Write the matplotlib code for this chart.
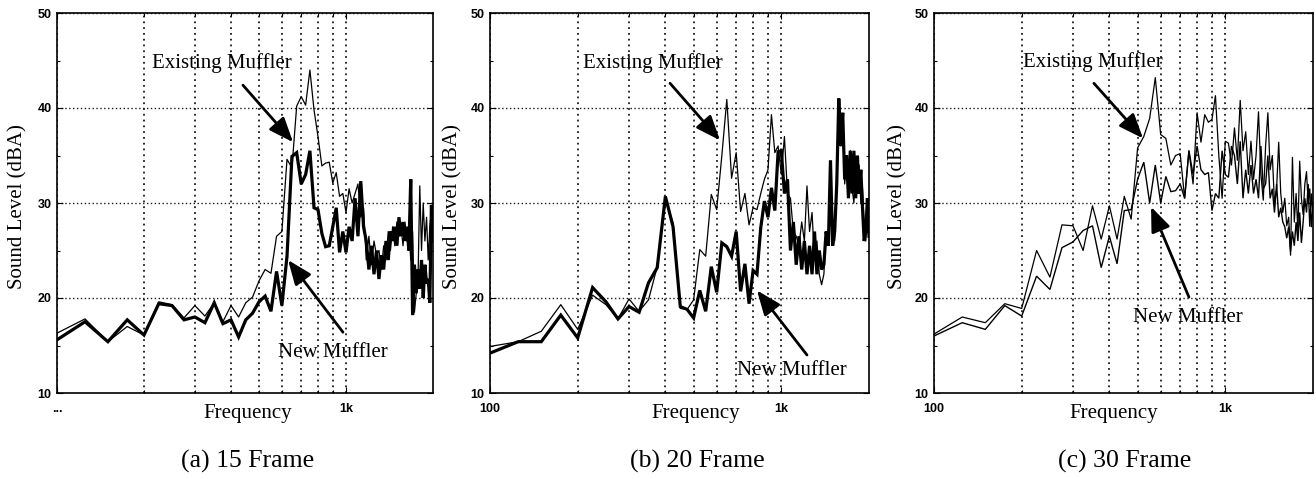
import numpy as np
import matplotlib
matplotlib.use("Agg")
import matplotlib.pyplot as plt
from matplotlib.ticker import FixedLocator, FixedFormatter, NullFormatter

# ---------------- data ----------------
freq = np.arange(100, 2001, 25)  # Hz, analysis grid

existing_15 = [16.3, 17.8, 15.4, 17.0, 16.1, 19.6, 19.3, 17.9, 19.2, 18.1, 19.5, 17.5, 19.2, 18.0, 19.5, 20.1,
               21.8, 23.0, 22.6, 26.5, 27.0, 34.6, 33.7, 40.2, 41.2, 40.3, 44.0, 39.8, 37.0, 33.9, 34.2, 34.3,
               32.1, 33.2, 30.7, 31.0,
               29.0, 31.5, 30.0, 31.0, 32.0, 28.5, 29.5, 24.0, 26.5, 23.5, 26.0, 24.5, 25.0, 23.0, 25.5, 24.0,
               27.0, 25.0, 27.5, 25.5, 28.0, 26.5, 27.5, 25.5, 28.0, 26.0, 27.5, 24.0, 27.0, 18.5, 20.5, 22.0,
               31.8, 25.0, 30.0, 26.0, 28.5, 24.0, 27.5, 29.0, 28.0]
new_15 = [15.6, 17.5, 15.4, 17.7, 16.1, 19.4, 19.2, 17.7, 18.0, 17.4, 19.5, 17.3, 17.7, 15.9, 17.7, 18.4,
          19.6, 20.2, 18.6, 22.8, 19.2, 24.4, 34.9, 35.3, 32.0, 33.0, 35.5, 29.5, 29.3, 26.8, 25.4, 25.5,
          27.5, 29.5, 24.8, 27.0,
          24.8, 27.5, 26.0, 30.5, 26.5, 32.3, 27.5, 26.0, 23.0, 25.5, 22.5, 25.0, 22.0, 24.5, 23.0, 26.0,
          24.0, 27.0, 26.0, 27.5, 25.5, 28.5, 26.5, 28.0, 26.0, 27.5, 25.0, 32.5, 18.2, 23.5, 20.5, 23.0,
          21.0, 24.0, 20.0, 23.5, 21.5, 22.0, 19.5, 29.8, 26.0]

existing_20 = [14.9, 15.4, 16.5, 19.3, 16.7, 20.3, 19.3, 17.8, 19.9, 18.6, 19.8, 23.3, 30.3, 27.9, 18.9, 18.8,
               19.8, 25.1, 24.4, 30.9, 29.3, 35.0, 40.9, 32.6, 35.3, 29.1, 31.0, 27.7, 29.5, 29.3, 31.0, 32.5,
               33.5, 39.3, 35.3, 36.0,
               33.0, 37.0, 31.0, 30.5, 27.0, 26.5, 25.5, 28.0, 26.0, 31.8, 27.0, 29.0, 24.0, 26.0, 22.5, 21.4,
               22.5, 27.0, 26.0, 33.0, 27.0, 26.0, 33.0, 39.5, 36.0, 38.0, 32.0, 34.0, 31.0, 35.5, 31.5, 30.0,
               34.5, 31.0, 34.0, 30.0, 31.5, 27.5, 26.0, 30.0, 27.5]
new_20 = [14.2, 15.4, 15.4, 18.2, 15.8, 21.1, 19.6, 17.8, 19.1, 18.5, 21.6, 23.2, 30.7, 27.5, 19.1, 18.8,
          17.9, 20.8, 18.6, 23.3, 20.6, 25.8, 25.4, 24.4, 27.0, 20.7, 23.6, 19.4, 22.9, 22.5, 27.4, 30.2,
          28.5, 31.6, 29.2, 35.4,
          35.5, 31.0, 32.5, 25.0, 28.0, 23.5, 26.5, 23.0, 26.0, 22.5, 25.5, 22.5, 27.0, 22.5, 25.0, 23.0,
          23.5, 27.0, 25.5, 34.5, 25.5, 27.0, 32.0, 41.0, 36.0, 39.5, 32.5, 35.0, 30.5, 35.5, 31.0, 35.5,
          30.5, 35.0, 31.0, 33.5, 29.5, 26.0, 27.0, 30.5, 26.5]

existing_30 = [16.2, 18.0, 17.4, 19.4, 18.9, 25.0, 22.2, 27.7, 27.6, 25.0, 29.7, 26.2, 29.7, 26.2, 30.7, 28.3,
               35.8, 37.0, 38.9, 43.2, 37.2, 36.8, 34.0, 35.0, 35.2, 30.5, 35.5, 32.0, 39.5, 36.4, 39.3, 38.5,
               38.8, 41.3, 35.0, 30.5,
               36.5, 36.3, 34.0, 37.9, 34.5, 40.8, 35.5, 37.5, 33.0, 36.5, 32.5, 35.0, 39.6, 33.0, 30.3, 36.0,
               39.5, 33.5, 35.0, 30.0, 31.5, 36.4, 31.0, 29.0, 30.5, 27.6, 28.5, 24.5, 34.8, 28.0, 31.0, 27.0,
               34.4, 30.5, 28.8, 32.0, 33.3, 30.0, 31.5, 27.5, 30.0]
new_30 = [16.0, 17.4, 16.7, 19.2, 18.1, 22.3, 20.9, 25.3, 25.9, 27.1, 27.6, 23.2, 26.5, 23.6, 29.2, 29.3,
          32.5, 34.3, 30.0, 34.0, 30.0, 32.8, 31.2, 31.3, 32.0, 30.5, 35.5, 33.0, 36.0, 33.5, 33.0, 33.2,
          29.2, 31.0, 30.5, 35.5,
          33.0, 32.7, 36.0, 35.0, 32.0, 36.5, 30.5, 33.5, 31.0, 34.0, 31.0, 32.5, 30.5, 36.0, 31.5, 32.0,
          35.0, 30.5, 31.5, 29.0, 32.0, 28.5, 29.5, 28.0, 27.5, 26.3, 27.5, 24.9, 27.0, 25.5, 28.0, 26.0,
          29.0, 25.8, 28.0, 30.5, 29.0, 32.0, 27.5, 31.0, 29.0]

titles = ["(a) 15 Frame", "(b) 20 Frame", "(c) 30 Frame"]
first_xlabels = ["...", "100", "100"]
y_ticks = [10, 20, 30, 40, 50]
x_major = [100, 1000]
x_minor = [200, 300, 400, 500, 600, 700, 800, 900]

# annotation anchors (data coords): text pos, arrow tail, arrow head
ann_existing = [((213, 44.7), (440, 42.4), (656, 36.4)),
                ((208, 44.7), (415, 42.6), (616, 36.6)),
                ((202, 44.8), (354, 42.6), (522, 36.8))]
ann_new = [((582, 14.3), (976, 16.4), (630, 24.0)),
           ((705, 12.4), (1225, 14.0), (825, 20.8)),
           ((482, 17.9), (750, 20.1), (556, 29.6))]

series = [(existing_15, new_15, 2.3), (existing_20, new_20, 2.3), (existing_30, new_30, 1.0)]

# ---------------- layout ----------------
W, H = 1316, 479
lefts = [57, 490, 934]
widths = [376, 379, 379]
top, bottom = 13, 393
xlabel_pos = [0.508, 0.544, 0.475]
title_x = [248, 697, 1125]
ylabel_center = [18, 453, 898]  # pixel x of label centre

serif = "Liberation Serif"
tickfont = dict(family="Liberation Sans", weight="bold", size=9)

fig = plt.figure(figsize=(W / 100, H / 100), dpi=100)
fig.patch.set_facecolor("white")

for i in range(3):
    ax = fig.add_axes([lefts[i] / W, (H - bottom) / H, widths[i] / W, (bottom - top) / H])
    ex, nw, nlw = series[i]
    ax.plot(freq, ex, color="black", lw=0.9, zorder=3)
    ax.plot(freq, nw, color="black", lw=nlw, zorder=4, solid_joinstyle="miter")
    ax.set_xscale("log")
    ax.set_xlim(100, 2000)
    ax.set_ylim(10, 50)

    ax.xaxis.set_major_locator(FixedLocator(x_major))
    ax.xaxis.set_major_formatter(FixedFormatter([first_xlabels[i], "1k"]))
    ax.xaxis.set_minor_locator(FixedLocator(x_minor))
    ax.xaxis.set_minor_formatter(NullFormatter())
    ax.yaxis.set_major_locator(FixedLocator(y_ticks))
    ax.yaxis.set_minor_locator(FixedLocator([15, 25, 35, 45]))

    ax.grid(True, which="both", axis="x", color="0.1", lw=1.3, ls=(0, (1, 2.2)))
    ax.grid(True, which="major", axis="y", color="0.1", lw=1.0, ls=(0, (1, 1.8)))

    ax.tick_params(which="both", direction="in", top=True, right=True, color="black")
    ax.tick_params(which="major", length=4, width=0.8)
    ax.tick_params(which="minor", length=2, width=0.8)
    ax.tick_params(axis="x", pad=7)
    ax.tick_params(axis="y", pad=4)
    for lab in ax.get_xticklabels() + ax.get_yticklabels():
        lab.set_fontfamily(tickfont["family"])
        lab.set_fontweight(tickfont["weight"])
        lab.set_fontsize(tickfont["size"])

    for sp in ax.spines.values():
        sp.set_linewidth(1.2)
        sp.set_color("black")

    ax.text((ylabel_center[i] - lefts[i]) / widths[i], 0.49, "Sound Level (dBA)", transform=ax.transAxes,
            rotation=90, ha="center", va="center", fontfamily=serif, fontsize=15)
    ax.text(xlabel_pos[i], -0.053, "Frequency", transform=ax.transAxes, ha="center", va="center",
            fontfamily=serif, fontsize=15)

    # annotations
    for (txt_pos, tail, head), label in ((ann_existing[i], "Existing Muffler"), (ann_new[i], "New Muffler")):
        ax.text(txt_pos[0], txt_pos[1], label, ha="left", va="center", fontfamily=serif, fontsize=15,
                zorder=6)
        ax.annotate("", xy=head, xytext=tail,
                    arrowprops=dict(arrowstyle="-|>,head_length=0.75,head_width=0.3", lw=2.0,
                                    color="black", mutation_scale=20, shrinkA=0, shrinkB=0),
                    zorder=7)

    fig.text(title_x[i] / W, 1 - 461 / H, titles[i], ha="center", va="center",
             fontfamily=serif, fontsize=18.5)

fig.savefig("out.png", dpi=100, facecolor="white")
